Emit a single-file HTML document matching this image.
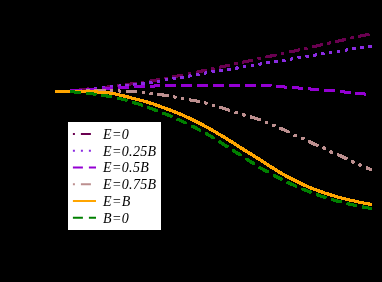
<!DOCTYPE html>
<html><head><meta charset="utf-8"><style>
html,body{margin:0;padding:0;background:#000;}
body{width:382px;height:282px;overflow:hidden;}
svg{display:block;will-change:transform;}
text{font-family:"Liberation Serif",serif;font-style:italic;font-size:14px;fill:#000;letter-spacing:0.35px;}
</style></head><body>
<svg width="382" height="282" viewBox="0 0 382 282">
<rect width="382" height="282" fill="#000"/>
<g fill="none" stroke-width="2" shape-rendering="crispEdges">
<defs>
<path id="c_dark" d="M55.5,91.4 L57.5,91.4 L59.5,91.4 L61.5,91.3 L63.5,91.3 L65.4,91.2 L67.4,91.1 L69.4,91.0 L71.4,90.9 L73.4,90.7 L75.4,90.5 L77.4,90.2 L79.4,90.0 L81.3,89.7 L83.3,89.5 L85.3,89.3 L87.3,89.0 L89.3,88.8 L91.3,88.6 L93.3,88.4 L95.3,88.2 L97.2,88.0 L99.2,87.8 L101.2,87.6 L103.2,87.4 L105.2,87.2 L107.2,87.0 L109.2,86.8 L111.2,86.5 L113.2,86.3 L115.1,86.1 L117.1,85.8 L119.1,85.5 L121.1,85.3 L123.1,85.0 L125.1,84.7 L127.1,84.5 L129.1,84.2 L131.0,83.9 L133.0,83.6 L135.0,83.3 L137.0,83.1 L139.0,82.8 L141.0,82.5 L143.0,82.2 L145.0,81.9 L147.0,81.5 L148.9,81.2 L150.9,80.9 L152.9,80.6 L154.9,80.2 L156.9,79.9 L158.9,79.6 L160.9,79.2 L162.9,78.8 L164.8,78.5 L166.8,78.1 L168.8,77.7 L170.8,77.3 L172.8,76.9 L174.8,76.5 L176.8,76.1 L178.8,75.8 L180.7,75.4 L182.7,75.0 L184.7,74.6 L186.7,74.2 L188.7,73.8 L190.7,73.3 L192.7,72.9 L194.7,72.5 L196.7,72.1 L198.6,71.7 L200.6,71.3 L202.6,70.9 L204.6,70.4 L206.6,70.0 L208.6,69.6 L210.6,69.2 L212.6,68.7 L214.5,68.3 L216.5,67.9 L218.5,67.5 L220.5,67.0 L222.5,66.6 L224.5,66.2 L226.5,65.8 L228.5,65.3 L230.4,64.9 L232.4,64.5 L234.4,64.0 L236.4,63.6 L238.4,63.2 L240.4,62.8 L242.4,62.3 L244.4,61.9 L246.4,61.5 L248.3,61.0 L250.3,60.6 L252.3,60.1 L254.3,59.7 L256.3,59.3 L258.3,58.8 L260.3,58.4 L262.3,57.9 L264.2,57.5 L266.2,57.0 L268.2,56.6 L270.2,56.2 L272.2,55.7 L274.2,55.3 L276.2,54.9 L278.2,54.5 L280.1,54.0 L282.1,53.6 L284.1,53.2 L286.1,52.8 L288.1,52.3 L290.1,51.9 L292.1,51.5 L294.1,51.1 L296.1,50.6 L298.0,50.2 L300.0,49.7 L302.0,49.3 L304.0,48.8 L306.0,48.4 L308.0,47.9 L310.0,47.5 L312.0,47.0 L313.9,46.6 L315.9,46.1 L317.9,45.7 L319.9,45.2 L321.9,44.8 L323.9,44.3 L325.9,43.9 L327.9,43.4 L329.9,43.0 L331.8,42.5 L333.8,42.1 L335.8,41.6 L337.8,41.2 L339.8,40.7 L341.8,40.3 L343.8,39.8 L345.8,39.4 L347.7,38.9 L349.7,38.5 L351.7,38.0 L353.7,37.6 L355.7,37.1 L357.7,36.7 L359.7,36.2 L361.7,35.8 L363.6,35.4 L365.6,34.9 L367.6,34.5 L369.6,34.1 L371.6,33.7" stroke="#6a0050" stroke-dasharray="10.42 5.45 2.48 5.45" stroke-dashoffset="0.7"/>
<path id="c_bviolet" d="M55.5,91.4 L57.5,91.4 L59.5,91.4 L61.5,91.3 L63.5,91.3 L65.4,91.2 L67.4,91.1 L69.4,91.0 L71.4,90.9 L73.4,90.8 L75.4,90.6 L77.4,90.4 L79.4,90.2 L81.3,90.0 L83.3,89.8 L85.3,89.6 L87.3,89.4 L89.3,89.2 L91.3,88.9 L93.3,88.7 L95.3,88.5 L97.2,88.3 L99.2,88.1 L101.2,87.9 L103.2,87.7 L105.2,87.4 L107.2,87.2 L109.2,87.0 L111.2,86.8 L113.2,86.6 L115.1,86.4 L117.1,86.3 L119.1,86.1 L121.1,85.9 L123.1,85.8 L125.1,85.6 L127.1,85.4 L129.1,85.2 L131.0,84.9 L133.0,84.7 L135.0,84.5 L137.0,84.2 L139.0,83.9 L141.0,83.7 L143.0,83.4 L145.0,83.1 L147.0,82.9 L148.9,82.6 L150.9,82.3 L152.9,82.0 L154.9,81.8 L156.9,81.5 L158.9,81.2 L160.9,80.8 L162.9,80.5 L164.8,80.2 L166.8,79.8 L168.8,79.5 L170.8,79.2 L172.8,78.8 L174.8,78.5 L176.8,78.2 L178.8,77.8 L180.7,77.5 L182.7,77.2 L184.7,76.8 L186.7,76.5 L188.7,76.1 L190.7,75.8 L192.7,75.4 L194.7,75.1 L196.7,74.7 L198.6,74.3 L200.6,74.0 L202.6,73.6 L204.6,73.2 L206.6,72.9 L208.6,72.6 L210.6,72.2 L212.6,71.9 L214.5,71.6 L216.5,71.2 L218.5,70.9 L220.5,70.6 L222.5,70.3 L224.5,69.9 L226.5,69.6 L228.5,69.3 L230.4,69.0 L232.4,68.7 L234.4,68.4 L236.4,68.1 L238.4,67.8 L240.4,67.5 L242.4,67.1 L244.4,66.8 L246.4,66.5 L248.3,66.2 L250.3,65.9 L252.3,65.5 L254.3,65.2 L256.3,64.8 L258.3,64.4 L260.3,64.0 L262.3,63.7 L264.2,63.3 L266.2,62.9 L268.2,62.6 L270.2,62.3 L272.2,62.1 L274.2,61.8 L276.2,61.6 L278.2,61.3 L280.1,61.1 L282.1,60.8 L284.1,60.5 L286.1,60.1 L288.1,59.7 L290.1,59.3 L292.1,58.8 L294.1,58.4 L296.1,58.0 L298.0,57.6 L300.0,57.2 L302.0,56.9 L304.0,56.6 L306.0,56.3 L308.0,56.1 L310.0,55.8 L312.0,55.6 L313.9,55.3 L315.9,54.9 L317.9,54.6 L319.9,54.3 L321.9,53.9 L323.9,53.5 L325.9,53.2 L327.9,52.8 L329.9,52.5 L331.8,52.1 L333.8,51.8 L335.8,51.5 L337.8,51.3 L339.8,51.0 L341.8,50.7 L343.8,50.4 L345.8,50.1 L347.7,49.8 L349.7,49.5 L351.7,49.2 L353.7,48.8 L355.7,48.5 L357.7,48.2 L359.7,47.9 L361.7,47.6 L363.6,47.2 L365.6,46.9 L367.6,46.6 L369.6,46.3 L371.6,46.0" stroke="#8a2be2" stroke-dasharray="2.48 5.45" stroke-dashoffset="0.6"/>
<path id="c_purple" d="M55.5,91.4 L57.5,91.4 L59.5,91.4 L61.5,91.3 L63.5,91.3 L65.4,91.2 L67.4,91.1 L69.4,91.0 L71.4,90.9 L73.4,90.8 L75.4,90.6 L77.4,90.5 L79.4,90.4 L81.3,90.2 L83.3,90.1 L85.3,90.0 L87.3,89.8 L89.3,89.7 L91.3,89.5 L93.3,89.4 L95.3,89.2 L97.2,89.1 L99.2,89.0 L101.2,88.8 L103.2,88.7 L105.2,88.5 L107.2,88.4 L109.2,88.2 L111.2,88.1 L113.2,88.0 L115.1,87.8 L117.1,87.7 L119.1,87.5 L121.1,87.4 L123.1,87.3 L125.1,87.2 L127.1,87.1 L129.1,87.0 L131.0,86.9 L133.0,86.8 L135.0,86.7 L137.0,86.6 L139.0,86.5 L141.0,86.4 L143.0,86.4 L145.0,86.3 L147.0,86.2 L148.9,86.2 L150.9,86.1 L152.9,86.1 L154.9,86.0 L156.9,85.9 L158.9,85.9 L160.9,85.8 L162.9,85.8 L164.8,85.7 L166.8,85.7 L168.8,85.6 L170.8,85.6 L172.8,85.6 L174.8,85.6 L176.8,85.6 L178.8,85.5 L180.7,85.5 L182.7,85.5 L184.7,85.5 L186.7,85.5 L188.7,85.5 L190.7,85.5 L192.7,85.5 L194.7,85.4 L196.7,85.4 L198.6,85.4 L200.6,85.4 L202.6,85.4 L204.6,85.4 L206.6,85.4 L208.6,85.4 L210.6,85.4 L212.6,85.4 L214.5,85.3 L216.5,85.3 L218.5,85.3 L220.5,85.3 L222.5,85.3 L224.5,85.3 L226.5,85.3 L228.5,85.3 L230.4,85.3 L232.4,85.3 L234.4,85.3 L236.4,85.3 L238.4,85.3 L240.4,85.3 L242.4,85.3 L244.4,85.3 L246.4,85.4 L248.3,85.4 L250.3,85.4 L252.3,85.4 L254.3,85.5 L256.3,85.5 L258.3,85.5 L260.3,85.6 L262.3,85.6 L264.2,85.7 L266.2,85.7 L268.2,85.8 L270.2,85.9 L272.2,86.0 L274.2,86.2 L276.2,86.3 L278.2,86.5 L280.1,86.7 L282.1,86.8 L284.1,87.0 L286.1,87.1 L288.1,87.2 L290.1,87.4 L292.1,87.5 L294.1,87.7 L296.1,87.8 L298.0,88.0 L300.0,88.2 L302.0,88.3 L304.0,88.5 L306.0,88.6 L308.0,88.8 L310.0,89.0 L312.0,89.1 L313.9,89.3 L315.9,89.4 L317.9,89.6 L319.9,89.8 L321.9,89.9 L323.9,90.1 L325.9,90.2 L327.9,90.4 L329.9,90.6 L331.8,90.8 L333.8,90.9 L335.8,91.1 L337.8,91.3 L339.8,91.5 L341.8,91.7 L343.8,91.9 L345.8,92.1 L347.7,92.3 L349.7,92.5 L351.7,92.6 L353.7,92.8 L355.7,93.0 L357.7,93.2 L359.7,93.5 L361.7,93.7 L363.6,93.9 L365.6,94.2 L367.6,94.4 L369.6,94.7 L371.6,95.0" stroke="#9400d3" stroke-dasharray="9.92 5.95" stroke-dashoffset="0.5"/>
<path id="c_rosy" d="M55.5,91.4 L57.5,91.4 L59.5,91.4 L61.5,91.4 L63.5,91.4 L65.4,91.3 L67.4,91.3 L69.4,91.3 L71.4,91.3 L73.4,91.2 L75.4,91.2 L77.4,91.1 L79.4,91.1 L81.3,91.0 L83.3,90.9 L85.3,90.8 L87.3,90.7 L89.3,90.6 L91.3,90.6 L93.3,90.5 L95.3,90.4 L97.2,90.3 L99.2,90.3 L101.2,90.3 L103.2,90.3 L105.2,90.4 L107.2,90.5 L109.2,90.6 L111.2,90.7 L113.2,90.7 L115.1,90.8 L117.1,90.9 L119.1,91.0 L121.1,91.0 L123.1,91.1 L125.1,91.2 L127.1,91.2 L129.1,91.3 L131.0,91.4 L133.0,91.5 L135.0,91.6 L137.0,91.8 L139.0,92.0 L141.0,92.1 L143.0,92.3 L145.0,92.5 L147.0,92.7 L148.9,92.9 L150.9,93.2 L152.9,93.4 L154.9,93.7 L156.9,94.0 L158.9,94.3 L160.9,94.7 L162.9,95.0 L164.8,95.3 L166.8,95.6 L168.8,95.9 L170.8,96.3 L172.8,96.6 L174.8,97.0 L176.8,97.4 L178.8,97.8 L180.7,98.3 L182.7,98.7 L184.7,99.0 L186.7,99.4 L188.7,99.7 L190.7,100.0 L192.7,100.4 L194.7,100.7 L196.7,101.1 L198.6,101.5 L200.6,101.9 L202.6,102.4 L204.6,102.8 L206.6,103.3 L208.6,103.9 L210.6,104.5 L212.6,105.0 L214.5,105.6 L216.5,106.2 L218.5,106.8 L220.5,107.4 L222.5,108.0 L224.5,108.6 L226.5,109.3 L228.5,109.9 L230.4,110.5 L232.4,111.2 L234.4,111.8 L236.4,112.5 L238.4,113.1 L240.4,113.8 L242.4,114.4 L244.4,115.1 L246.4,115.7 L248.3,116.2 L250.3,116.8 L252.3,117.4 L254.3,118.0 L256.3,118.6 L258.3,119.3 L260.3,120.1 L262.3,120.8 L264.2,121.6 L266.2,122.4 L268.2,123.2 L270.2,124.0 L272.2,124.8 L274.2,125.7 L276.2,126.5 L278.2,127.3 L280.1,128.2 L282.1,129.0 L284.1,129.9 L286.1,130.8 L288.1,131.9 L290.1,132.9 L292.1,134.0 L294.1,135.0 L296.1,135.9 L298.0,136.7 L300.0,137.4 L302.0,138.2 L304.0,139.1 L306.0,140.0 L308.0,141.0 L310.0,142.0 L312.0,143.0 L313.9,143.9 L315.9,144.7 L317.9,145.5 L319.9,146.3 L321.9,147.1 L323.9,147.9 L325.9,149.0 L327.9,150.1 L329.9,151.3 L331.8,152.3 L333.8,153.1 L335.8,153.9 L337.8,154.7 L339.8,155.5 L341.8,156.4 L343.8,157.4 L345.8,158.4 L347.7,159.4 L349.7,160.5 L351.7,161.5 L353.7,162.4 L355.7,163.3 L357.7,164.1 L359.7,164.9 L361.7,165.8 L363.6,166.6 L365.6,167.4 L367.6,168.3 L369.6,169.1 L371.6,169.9" stroke="#bc8f8f" stroke-dasharray="2.48 5.45 10.42 5.45 2.48 5.45" stroke-dashoffset="0.5"/>
<path id="c_orange" d="M55.5,91.4 L57.5,91.4 L59.5,91.4 L61.5,91.4 L63.5,91.4 L65.4,91.4 L67.4,91.4 L69.4,91.4 L71.4,91.4 L73.4,91.4 L75.4,91.5 L77.4,91.5 L79.4,91.5 L81.3,91.5 L83.3,91.6 L85.3,91.6 L87.3,91.6 L89.3,91.7 L91.3,91.7 L93.3,91.8 L95.3,91.9 L97.2,92.0 L99.2,92.1 L101.2,92.2 L103.2,92.4 L105.2,92.6 L107.2,92.8 L109.2,93.0 L111.2,93.3 L113.2,93.6 L115.1,93.9 L117.1,94.4 L119.1,94.9 L121.1,95.3 L123.1,95.8 L125.1,96.3 L127.1,96.8 L129.1,97.3 L131.0,97.8 L133.0,98.3 L135.0,98.8 L137.0,99.3 L139.0,99.8 L141.0,100.4 L143.0,100.9 L145.0,101.4 L147.0,102.0 L148.9,102.6 L150.9,103.3 L152.9,103.9 L154.9,104.6 L156.9,105.3 L158.9,106.0 L160.9,106.7 L162.9,107.4 L164.8,108.1 L166.8,108.9 L168.8,109.6 L170.8,110.3 L172.8,111.1 L174.8,111.9 L176.8,112.7 L178.8,113.5 L180.7,114.3 L182.7,115.2 L184.7,116.1 L186.7,117.0 L188.7,117.9 L190.7,118.9 L192.7,119.8 L194.7,120.8 L196.7,121.8 L198.6,122.9 L200.6,123.9 L202.6,124.9 L204.6,126.0 L206.6,127.0 L208.6,128.1 L210.6,129.2 L212.6,130.4 L214.5,131.5 L216.5,132.7 L218.5,133.9 L220.5,135.0 L222.5,136.2 L224.5,137.5 L226.5,138.7 L228.5,139.9 L230.4,141.1 L232.4,142.4 L234.4,143.7 L236.4,145.0 L238.4,146.3 L240.4,147.6 L242.4,148.8 L244.4,150.1 L246.4,151.3 L248.3,152.5 L250.3,153.7 L252.3,155.0 L254.3,156.2 L256.3,157.4 L258.3,158.7 L260.3,160.0 L262.3,161.2 L264.2,162.5 L266.2,163.8 L268.2,165.1 L270.2,166.3 L272.2,167.6 L274.2,168.9 L276.2,170.1 L278.2,171.3 L280.1,172.6 L282.1,173.7 L284.1,174.9 L286.1,176.0 L288.1,177.0 L290.1,178.1 L292.1,179.1 L294.1,180.1 L296.1,181.1 L298.0,182.1 L300.0,183.1 L302.0,184.1 L304.0,185.0 L306.0,185.9 L308.0,186.8 L310.0,187.6 L312.0,188.4 L313.9,189.2 L315.9,189.9 L317.9,190.6 L319.9,191.3 L321.9,192.0 L323.9,192.7 L325.9,193.4 L327.9,194.0 L329.9,194.6 L331.8,195.3 L333.8,195.8 L335.8,196.4 L337.8,197.0 L339.8,197.5 L341.8,198.0 L343.8,198.5 L345.8,199.0 L347.7,199.5 L349.7,200.0 L351.7,200.5 L353.7,200.9 L355.7,201.4 L357.7,201.8 L359.7,202.2 L361.7,202.6 L363.6,203.0 L365.6,203.4 L367.6,203.8 L369.6,204.1 L371.6,204.5" stroke="#ffa500"/>
<path id="c_green" d="M70.4,91.8 L72.3,91.9 L74.2,92.0 L76.1,92.1 L78.0,92.2 L79.9,92.4 L81.8,92.6 L83.7,92.8 L85.6,93.0 L87.4,93.2 L89.3,93.5 L91.2,93.7 L93.1,94.0 L95.0,94.2 L96.9,94.5 L98.8,94.7 L100.7,95.0 L102.6,95.3 L104.5,95.6 L106.4,95.9 L108.3,96.2 L110.2,96.6 L112.1,96.9 L114.0,97.3 L115.9,97.7 L117.8,98.2 L119.7,98.6 L121.5,99.0 L123.4,99.5 L125.3,100.0 L127.2,100.5 L129.1,101.1 L131.0,101.7 L132.9,102.3 L134.8,102.9 L136.7,103.5 L138.6,104.1 L140.5,104.7 L142.4,105.4 L144.3,106.1 L146.2,106.8 L148.1,107.5 L150.0,108.2 L151.9,108.9 L153.8,109.6 L155.6,110.3 L157.5,111.0 L159.4,111.7 L161.3,112.4 L163.2,113.1 L165.1,113.8 L167.0,114.6 L168.9,115.4 L170.8,116.2 L172.7,117.0 L174.6,117.9 L176.5,118.7 L178.4,119.6 L180.3,120.5 L182.2,121.4 L184.1,122.3 L186.0,123.2 L187.8,124.1 L189.7,125.0 L191.6,125.9 L193.5,126.8 L195.4,127.8 L197.3,128.8 L199.2,129.8 L201.1,130.8 L203.0,131.8 L204.9,132.9 L206.8,133.9 L208.7,135.0 L210.6,136.1 L212.5,137.3 L214.4,138.5 L216.3,139.7 L218.2,140.9 L220.1,142.1 L221.9,143.3 L223.8,144.5 L225.7,145.7 L227.6,146.9 L229.5,148.1 L231.4,149.3 L233.3,150.5 L235.2,151.7 L237.1,152.9 L239.0,154.1 L240.9,155.3 L242.8,156.6 L244.7,157.8 L246.6,159.1 L248.5,160.3 L250.4,161.5 L252.3,162.7 L254.2,163.9 L256.0,165.1 L257.9,166.3 L259.8,167.5 L261.7,168.6 L263.6,169.7 L265.5,170.8 L267.4,171.8 L269.3,172.9 L271.2,173.9 L273.1,174.9 L275.0,175.9 L276.9,176.9 L278.8,177.9 L280.7,178.8 L282.6,179.8 L284.5,180.7 L286.4,181.7 L288.2,182.6 L290.1,183.5 L292.0,184.4 L293.9,185.3 L295.8,186.2 L297.7,187.0 L299.6,187.8 L301.5,188.6 L303.4,189.4 L305.3,190.2 L307.2,191.0 L309.1,191.7 L311.0,192.4 L312.9,193.2 L314.8,193.9 L316.7,194.5 L318.6,195.2 L320.5,195.9 L322.3,196.5 L324.2,197.1 L326.1,197.7 L328.0,198.3 L329.9,198.9 L331.8,199.5 L333.7,200.1 L335.6,200.6 L337.5,201.1 L339.4,201.6 L341.3,202.1 L343.2,202.6 L345.1,203.1 L347.0,203.5 L348.9,204.0 L350.8,204.4 L352.7,204.9 L354.6,205.3 L356.4,205.7 L358.3,206.1 L360.2,206.5 L362.1,206.8 L364.0,207.2 L365.9,207.6 L367.8,207.9 L369.7,208.3 L371.6,208.6" stroke="#008000" stroke-dasharray="9.92 5.95" stroke-dashoffset="0"/>
</defs>
<use href="#c_dark" transform="translate(-0.5,-0.5)"/>
<use href="#c_dark" transform="translate(0.5,-0.5)"/>
<use href="#c_dark" transform="translate(-0.5,0.5)"/>
<use href="#c_dark" transform="translate(0.5,0.5)"/>
<use href="#c_bviolet" transform="translate(-0.5,-0.5)"/>
<use href="#c_bviolet" transform="translate(0.5,-0.5)"/>
<use href="#c_bviolet" transform="translate(-0.5,0.5)"/>
<use href="#c_bviolet" transform="translate(0.5,0.5)"/>
<use href="#c_purple" transform="translate(-0.5,-0.5)"/>
<use href="#c_purple" transform="translate(0.5,-0.5)"/>
<use href="#c_purple" transform="translate(-0.5,0.5)"/>
<use href="#c_purple" transform="translate(0.5,0.5)"/>
<use href="#c_rosy" transform="translate(-0.5,-0.5)"/>
<use href="#c_rosy" transform="translate(0.5,-0.5)"/>
<use href="#c_rosy" transform="translate(-0.5,0.5)"/>
<use href="#c_rosy" transform="translate(0.5,0.5)"/>
<use href="#c_orange" transform="translate(-0.5,-0.5)"/>
<use href="#c_orange" transform="translate(0.5,-0.5)"/>
<use href="#c_orange" transform="translate(-0.5,0.5)"/>
<use href="#c_orange" transform="translate(0.5,0.5)"/>
<use href="#c_green" transform="translate(-0.5,-0.5)"/>
<use href="#c_green" transform="translate(0.5,-0.5)"/>
<use href="#c_green" transform="translate(-0.5,0.5)"/>
<use href="#c_green" transform="translate(0.5,0.5)"/>
</g>
<rect x="68" y="122" width="93" height="108" fill="#fff"/>
<g fill="none">
<line x1="72.9" y1="133.9" x2="96" y2="133.9" stroke="#6a0050" stroke-width="2" stroke-dasharray="2 6 10 6"/>
<text x="103.0" y="138.7">E=0</text>
<line x1="72.9" y1="150.65" x2="96" y2="150.65" stroke="#8a2be2" stroke-width="2" stroke-dasharray="2 6"/>
<text x="103.0" y="155.5">E=0.25B</text>
<line x1="72.9" y1="167.4" x2="96" y2="167.4" stroke="#9400d3" stroke-width="2" stroke-dasharray="10 6"/>
<text x="103.0" y="172.2">E=0.5B</text>
<line x1="72.9" y1="184.2" x2="96" y2="184.2" stroke="#bc8f8f" stroke-width="2" stroke-dasharray="2 6 10 6 2 6"/>
<text x="103.0" y="189.0">E=0.75B</text>
<line x1="72.9" y1="201.0" x2="96" y2="201.0" stroke="#ffa500" stroke-width="2"/>
<text x="103.0" y="205.8">E=B</text>
<line x1="72.9" y1="217.7" x2="96" y2="217.7" stroke="#008000" stroke-width="2" stroke-dasharray="10 6"/>
<text x="103.0" y="222.5">B=0</text>
</g>
</svg>
</body></html>
